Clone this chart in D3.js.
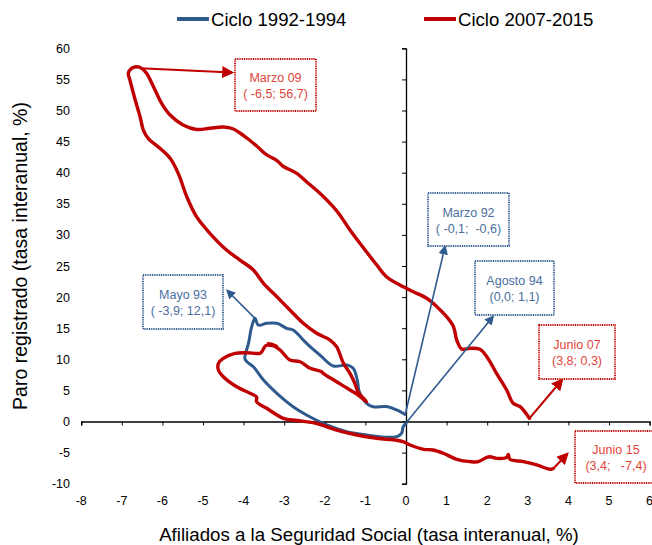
<!DOCTYPE html>
<html>
<head>
<meta charset="utf-8">
<script src="https://cdn.jsdelivr.net/npm/d3@7"></script>
<style>
  body { margin: 0; background: #fff; }
  text { font-family: "Liberation Sans", Arial, sans-serif; }
</style>
</head>
<body>
<script>
const WIDTH = 652
const HEIGHT = 545

// Datos (afiliados x, paro y)
const xTicks = [-8, -7, -6, -5, -4, -3, -2, -1, 0, 1, 2, 3, 4, 5, 6]
const yTicks = [-10, -5, 0, 5, 10, 15, 20, 25, 30, 35, 40, 45, 50, 55, 60]

// Ciclo 1992-1994 (desde marzo 92 hasta agosto 94)
const ciclo92x = [0.00, -0.07, -0.11, -0.23, -0.48, -0.97, -1.46, -1.95, -2.45, -2.78, -3.18, -3.51, -3.76, -3.92, -3.97, -3.88, -3.80, -3.72,
  -3.64, -3.43, -3.18, -2.94, -2.78, -2.45, -2.12, -1.79, -1.46, -1.30, -1.20, -1.15, -0.97, -0.81, -0.48, -0.23, -0.02]
const ciclo92y = [-0.29, -0.84, -1.90, -2.44, -2.54, -2.17, -1.64, -0.56, 1.05, 2.38, 4.53, 6.67, 8.81, 9.61, 10.16, 12.57, 15.24, 16.59,
  15.51, 15.79, 15.79, 14.98, 14.71, 12.57, 10.69, 8.92, 9.08, 8.55, 6.67, 4.79, 2.93, 2.38, 2.41, 1.85, 1.13]

// Ciclo 2007-2015 (desde junio 07 hasta junio 15)
const ciclo07x = [3.04, 2.81, 2.64, 2.48, 2.23, 1.99, 1.82, 1.58, 1.37, 1.25, 1.17, 1.00, 0.76, 0.51, 0.18, -0.15, -0.48, -0.72, -0.97, -1.38,
  -1.63, -1.79, -2.12, -2.45, -2.69, -3.02, -3.18, -3.43, -3.65, -3.89, -4.09, -4.25, -4.50, -4.83, -5.16, -5.49, -5.81, -6.02, -6.22, -6.39,
  -6.51, -6.63, -6.76, -6.84, -6.80, -6.67, -6.55, -6.47, -6.35, -6.06, -5.81, -5.61, -5.40, -5.16, -4.83, -4.42, -4.09, -3.76, -3.51, -3.18,
  -2.86, -2.53, -2.20, -1.87, -1.71, -1.54, -1.38, -1.26, -1.18, -0.97, -1.21, -1.38, -1.71, -2.04, -2.08, -2.36, -2.61, -2.86, -3.10, -3.27,
  -3.39, -3.18, -3.45, -3.55, -3.60, -3.92, -4.21, -4.50, -4.62, -4.62, -4.50, -4.17, -3.84, -3.68, -3.68, -3.43, -3.02, -2.69, -2.20, -1.71,
  -1.21, -0.72, -0.23, -0.07, 0.10, 0.43, 0.67, 0.92, 1.25, 1.58, 1.78, 1.99, 2.07, 2.23, 2.48, 2.52, 2.56, 2.89, 3.22, 3.55, 3.63]
const ciclo07y = [0.51, 2.38, 2.93, 5.06, 7.75, 10.42, 11.61, 11.77, 11.66, 13.10, 15.24, 16.85, 18.46, 19.81, 20.87, 21.95, 23.28, 25.16, 27.25, 30.79,
  33.20, 34.49, 36.69, 38.55, 39.90, 41.00, 41.96, 42.85, 44.13, 45.42, 46.38, 47.03, 47.35, 47.14, 46.95, 47.67, 49.28, 51.16, 53.83, 55.98,
  56.78, 57.04, 56.78, 55.98, 54.90, 51.69, 49.00, 46.86, 45.53, 43.92, 42.32, 39.90, 36.14, 32.93, 30.26, 27.57, 25.96, 24.36, 22.22, 20.06,
  17.93, 15.79, 14.18, 13.10, 12.03, 9.36, 7.75, 6.14, 4.74, 3.18, 4.42, 5.06, 6.40, 7.75, 8.01, 8.55, 9.61, 9.89, 11.50, 12.22,
  12.57, 12.06, 12.22, 11.22, 10.96, 11.06, 10.96, 10.16, 9.36, 8.28, 7.20, 5.59, 4.53, 3.94, 3.18, 2.12, 0.51, 0.16, -0.32, -1.37,
  -2.17, -2.70, -3.02, -3.25, -3.78, -4.47, -4.58, -5.11, -6.08, -6.46, -6.46, -5.76, -5.66, -5.92, -5.76, -5.31, -6.08, -6.46, -6.99, -7.68, -7.56]

// Anotaciones: texto y flecha (inicio/fin en unidades de los ejes)
const notaTitulos = ["Marzo 09", "Mayo 93", "Marzo 92", "Agosto 94", "Junio 07", "Junio 15"]
const notaValores = ["( -6,5; 56,7)", "( -3,9; 12,1)", "( -0,1;  -0,6)", "(0,0; 1,1)", "(3,8; 0,3)", "(3,4;   -7,4)"]
const notaSerie = [1, 0, 0, 0, 1, 1]
const flechaX0 = [-6.55, -3.72, -0.01, 0.00, 3.04, 3.63]
const flechaY0 = [56.8, 16.59, 1.37, -0.24, 0.51, -7.56]
const flechaX1 = [-4.29, -4.40, 0.96, 2.14, 3.84, 3.97]
const flechaY1 = [56.1, 21.03, 28.1, 16.85, 6.67, -5.23]

// Cajas de las anotaciones (píxeles: x, y, ancho, alto)
const cajas = [[235, 59, 81, 52], [143, 275, 80, 54], [428, 193, 81, 53], [475, 261, 79, 54], [539, 325, 76, 54], [575, 431, 82, 52]]

const colores = ["#2E5A8E", "#C00000"]
const coloresTexto = ["#4A6F9E", "#E0443A"]

const svg = d3.select("body")
    .append("svg")
    .attr("width", WIDTH)
    .attr("height", HEIGHT)

const x = d3.scaleLinear().domain([-8, 6]).range([81.2, 649.6])
const y = d3.scaleLinear().domain([-10, 60]).range([483.7, 48.3])

// Ejes cruzando en el origen
svg.append("g")
    .attr("transform", `translate(0,${y(0)})`)
    .call(d3.axisBottom(x).tickValues(xTicks).tickSize(4).tickFormat(""))
    .call(g => g.select(".domain").attr("stroke-width", 1.3))

svg.append("g")
    .attr("transform", `translate(${x(0)},0)`)
    .call(d3.axisLeft(y).tickValues(yTicks).tickSize(4).tickFormat(""))
    .call(g => g.select(".domain").attr("stroke-width", 1.3))

// Etiquetas de los ejes en los bordes
svg.append("g").selectAll("text")
    .data(xTicks)
    .enter()
    .append("text")
    .attr("x", d => x(d))
    .attr("y", 505)
    .attr("text-anchor", "middle")
    .attr("font-size", 12.5)
    .text(d => d)

svg.append("g").selectAll("text")
    .data(yTicks)
    .enter()
    .append("text")
    .attr("x", 70)
    .attr("y", d => y(d) + 4.5)
    .attr("text-anchor", "end")
    .attr("font-size", 12.5)
    .text(d => d)

svg.append("text")
    .attr("x", 369)
    .attr("y", 541)
    .attr("text-anchor", "middle")
    .attr("font-size", 18.7)
    .text("Afiliados a la Seguridad Social (tasa interanual, %)")

svg.append("text")
    .attr("transform", "translate(27,256) rotate(-90)")
    .attr("text-anchor", "middle")
    .attr("font-size", 19.5)
    .text("Paro registrado (tasa interanual, %)")

// Curvas
const line = d3.line()
    .x(d => x(d[0]))
    .y(d => y(d[1]))
    .curve(d3.curveCatmullRom.alpha(0.5))

const series = [d3.zip(ciclo92x, ciclo92y), d3.zip(ciclo07x, ciclo07y)]

svg.append("g").selectAll("path")
    .data(series)
    .enter()
    .append("path")
    .attr("d", line)
    .attr("fill", "none")
    .attr("stroke", (d, i) => colores[i])
    .attr("stroke-width", (d, i) => i === 1 ? 3.4 : 3)
    .attr("stroke-linejoin", "round")
    .attr("stroke-linecap", "round")

// Puntas de flecha
const defs = svg.append("defs")
colores.forEach((c, i) => {
    defs.append("marker")
        .attr("id", "flecha" + i)
        .attr("viewBox", "0 0 10 10")
        .attr("refX", 8)
        .attr("refY", 5)
        .attr("markerWidth", 6)
        .attr("markerHeight", 6)
        .attr("markerUnits", "strokeWidth")
        .attr("orient", "auto")
        .append("path")
        .attr("d", "M0,0 L10,5 L0,10 z")
        .attr("fill", c)
})

const notas = svg.append("g")
notaTitulos.forEach((t, i) => {
    const s = notaSerie[i]
    notas.append("line")
        .attr("x1", x(flechaX0[i]))
        .attr("y1", y(flechaY0[i]))
        .attr("x2", x(flechaX1[i]))
        .attr("y2", y(flechaY1[i]))
        .attr("stroke", colores[s])
        .attr("stroke-width", s === 1 ? 2 : 1.6)
        .attr("marker-end", `url(#flecha${s})`)

    const [bx, by, bw, bh] = cajas[i]
    notas.append("rect")
        .attr("x", bx)
        .attr("y", by)
        .attr("width", bw)
        .attr("height", bh)
        .attr("fill", "#fff")
        .attr("stroke", colores[s])
        .attr("stroke-width", 1.8)
        .attr("stroke-dasharray", "1,0.8")

    notas.append("text")
        .attr("x", bx + bw / 2)
        .attr("y", by + bh / 2 - 3)
        .attr("text-anchor", "middle")
        .attr("font-size", 12.5)
        .attr("fill", coloresTexto[s])
        .text(t)

    notas.append("text")
        .attr("x", bx + bw / 2)
        .attr("y", by + bh / 2 + 13)
        .attr("text-anchor", "middle")
        .attr("font-size", 12.5)
        .attr("fill", coloresTexto[s])
        .attr("xml:space", "preserve")
        .style("white-space", "pre")
        .text(notaValores[i])
})

// Leyenda
const leyenda = ["Ciclo 1992-1994", "Ciclo 2007-2015"]
const leyendaX = [177, 424]
leyenda.forEach((t, i) => {
    svg.append("line")
        .attr("x1", leyendaX[i])
        .attr("x2", leyendaX[i] + 32)
        .attr("y1", 19)
        .attr("y2", 19)
        .attr("stroke", colores[i])
        .attr("stroke-width", 4)
    svg.append("text")
        .attr("x", leyendaX[i] + 34)
        .attr("y", 25.5)
        .attr("font-size", 18.6)
        .text(t)
})
</script>
</body>
</html>
